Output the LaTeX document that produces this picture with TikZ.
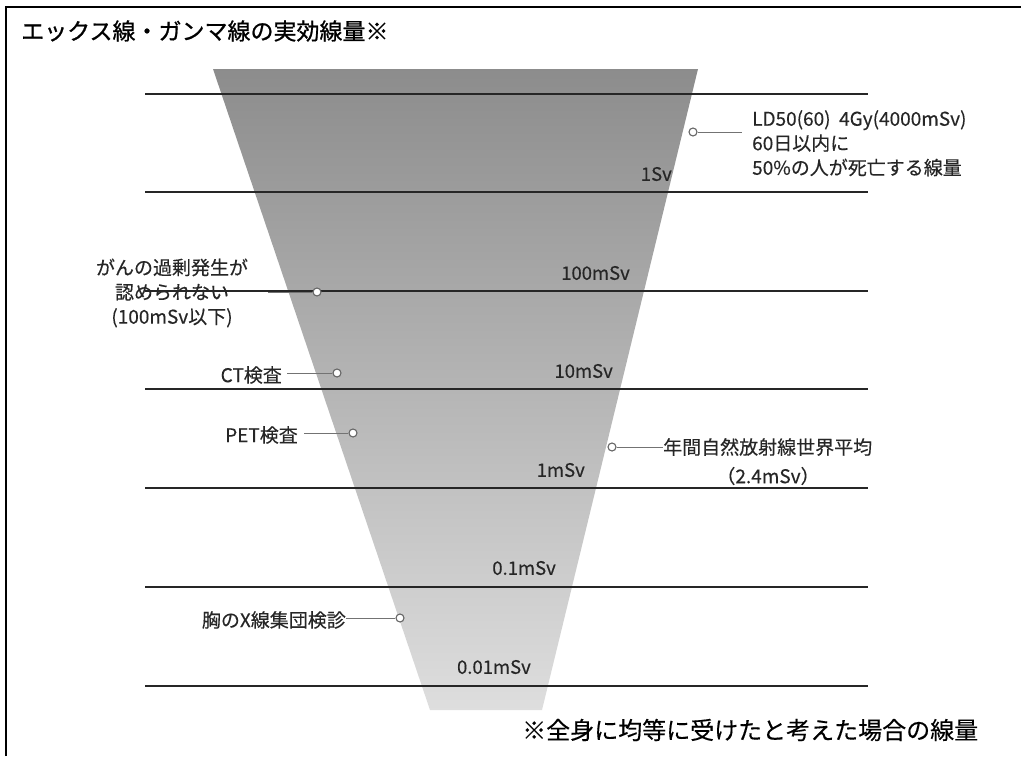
\documentclass[tikz,border=0pt]{standalone}
\usepackage{fontspec}
\newfontfamily\jp{Noto Sans CJK JP}[FakeBold=0.3]
\newfontfamily\jpt{Noto Sans CJK JP}[FakeBold=0.9]
\begin{document}
\begin{tikzpicture}[x=1pt,y=-1pt,
  lbl/.style={font=\jp\fontsize{19}{24.5}\selectfont, inner sep=0pt, text=black!85},
  val/.style={font=\jp\fontsize{18.5}{22}\selectfont, inner sep=0pt, anchor=east, text=black!85},
  dot/.style={circle, draw=black!60, fill=white, line width=1.1pt, minimum size=8pt, inner sep=0pt},
  conn/.style={draw=black!55, line width=1pt},
  level/.style={draw=black!85, line width=1.7pt}]
\useasboundingbox (0,0) rectangle (1021,756);
% frame
\draw[line width=2.6pt, black] (6,756) -- (6,7) -- (1021,7);
% funnel
\shade[top color=black!45, bottom color=black!13] (213,69) -- (698,69) -- (542,710) -- (430,710) -- cycle;
% level lines
\foreach \yy in {94,192,291,389,488,587,686}
  \draw[level] (145,\yy) -- (868,\yy);
% title and footnote
\node[font=\jpt\fontsize{23}{26}\selectfont, anchor=west, inner sep=0pt] (title) at (21,31) {エックス線・ガンマ線の実効線量※};
\node[font=\jp\fontsize{24}{28}\selectfont, anchor=west, inner sep=0pt] (foot) at (522,730) {※全身に均等に受けたと考えた場合の線量};
% values
\node[val] (v1) at (672,174) {1Sv};
\node[val] (v2) at (630,273) {100mSv};
\node[val] (v3) at (613,371) {10mSv};
\node[val] (v4) at (585,470) {1mSv};
\node[val] (v5) at (556,568) {0.1mSv};
\node[val] (v6) at (531,667) {0.01mSv};
% LD50
\node[dot] (d1) at (693,132) {};
\coordinate (e1) at (742,132);
\node[lbl, anchor=north west, align=left] (t1) at (752,110) {LD50(60)\ \ 4Gy(4000mSv)\\60日以内に\\50\%の人が死亡する線量};
\draw[conn] (d1) -- (e1);
% cancer
\node[dot] (d2) at (317,292) {};
\coordinate (e2) at (268,292);
\node[lbl, align=center] (t2) at (172,293) {がんの過剰発生が\\認められない\\(100mSv以下)};
\draw[conn] (d2) -- (e2);
% CT
\node[dot] (d3) at (337,373) {};
\node[lbl, anchor=east] (t3) at (282,375) {CT検査};
\draw[conn] (d3) -- ([xshift=5pt]t3.east |- d3);
% PET
\node[dot] (d4) at (353,433) {};
\node[lbl, anchor=east] (t4) at (298,435) {PET検査};
\draw[conn] (d4) -- ([xshift=6pt]t4.east |- d4);
% natural
\node[dot] (d5) at (612,447) {};
\node[lbl, anchor=west] (t5) at (663,447) {年間自然放射線世界平均};
\node[lbl] (t5b) at (768,476) {（2.4mSv）};
\draw[conn] (d5) -- (t5.west);
% chest
\node[dot] (d6) at (400,618) {};
\node[lbl, anchor=east] (t6) at (346,620) {胸のX線集団検診};
\draw[conn] (d6) -- (t6.east |- d6);
\end{tikzpicture}
\end{document}
